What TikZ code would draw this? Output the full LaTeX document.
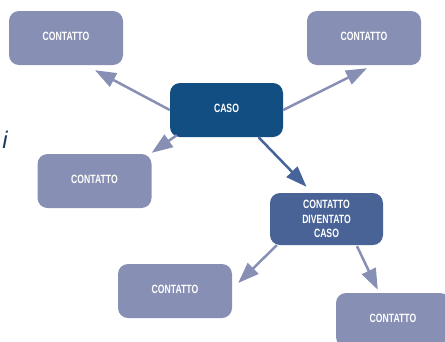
\documentclass[tikz,border=0pt]{standalone}
\usepackage{fontspec}
\usetikzlibrary{arrows.meta}
\newfontfamily\condfont[FakeStretch=0.72]{Liberation Sans}
\newfontfamily\obliquefont{Liberation Sans}
\definecolor{lightbox}{RGB}{135,144,180}
\definecolor{casobox}{RGB}{19,78,130}
\definecolor{divbox}{RGB}{73,99,150}
\definecolor{darkarrow}{RGB}{70,99,154}
\definecolor{navytext}{RGB}{28,58,94}
\begin{document}
\begin{tikzpicture}[x=1pt,y=-1pt,
  box/.style={rectangle, rounded corners=10pt, inner sep=0pt, text=white,
    font=\condfont\bfseries\fontsize{12}{14.5}\selectfont, align=center},
  onebox/.style={box, text depth=3pt},
  contbox/.style={onebox, fill=lightbox, minimum width=114pt, minimum height=54pt},
  arr/.style={draw=lightbox, line width=2.5pt, -{Triangle[length=21pt,width=15pt]}},
  darr/.style={draw=darkarrow, line width=2.5pt, -{Triangle[length=21pt,width=15pt]}}]
\useasboundingbox (0,0) rectangle (445,341);
\node[contbox] (tl) at (66,38) {CONTATTO};
\node[contbox] (tr) at (364,38) {CONTATTO};
\node[onebox, fill=casobox, minimum width=113pt, minimum height=54pt] (caso) at (226.5,110) {CASO};
\node[contbox] (lc) at (94.5,181) {CONTATTO};
\node[box, fill=divbox, minimum width=113pt, minimum height=52pt] (div) at (326.5,219) {CONTATTO\\DIVENTATO\\CASO};
\node[contbox] (bl) at (175,291) {CONTATTO};
\node[contbox] (br) at (393,320) {CONTATTO};
\node[font=\obliquefont\itshape\fontsize{24}{28}\selectfont, text=navytext, inner sep=0pt] (frag) at (5,140) {i};
\draw[arr] (caso.west) -- ([shift={(29,5)}]tl.south);
\draw[arr] (caso.east) -- ([shift={(3,3)}]tr.south);
\draw[arr] ([shift={(7,-2)}]caso.south west) -- ([shift={(0,-1)}]lc.north east);
\draw[darr] ([shift={(32,0)}]caso.south) -- ([shift={(-20,-6)}]div.north);
\draw[arr] ([shift={(7,0)}]div.south west) -- ([shift={(6,-8)}]bl.east);
\draw[arr] ([shift={(30.5,1)}]div.south) -- ([shift={(42,-3)}]br.north west);
\end{tikzpicture}
\end{document}
